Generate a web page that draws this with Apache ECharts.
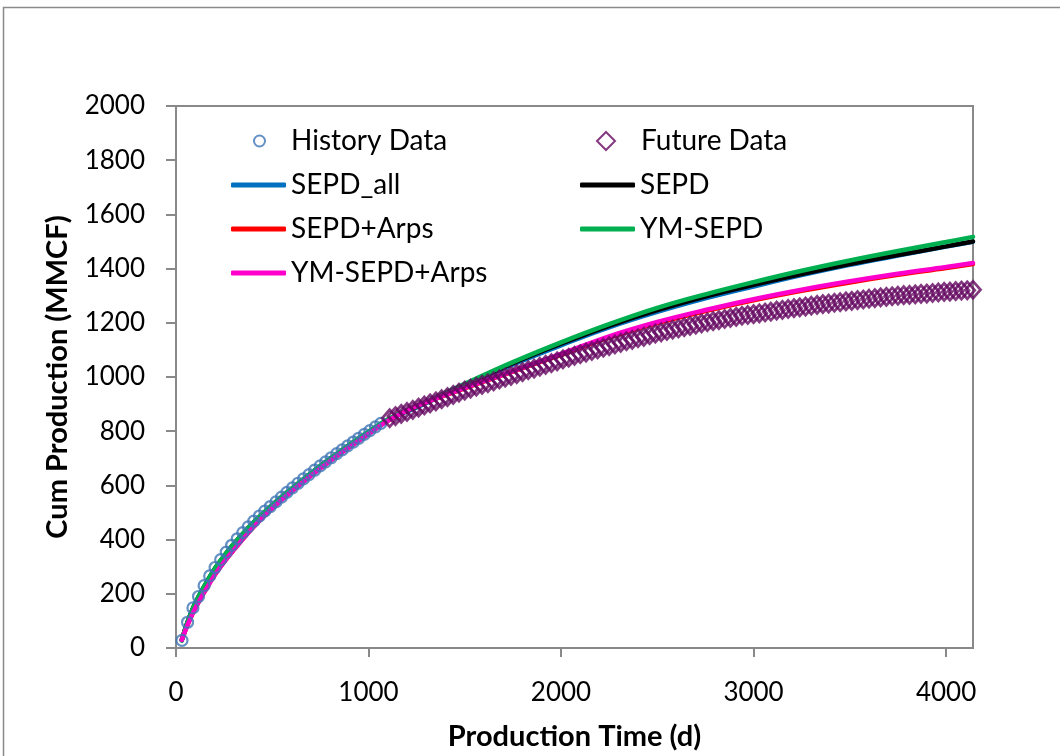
<!DOCTYPE html>
<html>
<head>
<meta charset="utf-8">
<script src="https://cdn.jsdelivr.net/npm/echarts@6/dist/echarts.min.js"></script>
<style>
  html, body { margin: 0; padding: 0; background: #fff; }
  #chart { width: 1060px; height: 756px; }
</style>
</head>
<body>
<div id="chart"></div>
<script>
// Measured history (cumulative gas, MMCF) versus production time (days)
const historyDays = [31, 60, 88, 117, 146, 175, 203, 232, 261, 289,
  318, 347, 375, 404, 433, 461, 490, 519, 548, 576,
  605, 634, 662, 691, 720, 749, 777, 806, 835, 863,
  892, 921, 949, 978, 1007, 1036, 1064];
const historyCum = [28, 95, 148, 190, 230, 266, 297, 326, 354, 379,
  403, 426, 447, 468, 487, 505, 522, 539, 557, 574,
  591, 608, 624, 640, 656, 672, 687, 702, 717, 731,
  746, 760, 774, 788, 802, 816, 829];

// Later production held out for checking the forecasts
const futureDays = [1110, 1140, 1170, 1200, 1230, 1260, 1290, 1320, 1350, 1380,
  1410, 1440, 1470, 1500, 1530, 1560, 1590, 1620, 1650, 1680,
  1710, 1740, 1770, 1800, 1830, 1860, 1890, 1920, 1950, 1980,
  2010, 2040, 2070, 2100, 2130, 2160, 2190, 2220, 2250, 2280,
  2310, 2340, 2370, 2400, 2430, 2460, 2490, 2520, 2550, 2580,
  2610, 2640, 2670, 2700, 2730, 2760, 2790, 2820, 2850, 2880,
  2910, 2940, 2970, 3000, 3030, 3060, 3090, 3120, 3150, 3180,
  3210, 3240, 3270, 3300, 3330, 3360, 3390, 3420, 3450, 3480,
  3510, 3540, 3570, 3600, 3630, 3660, 3690, 3720, 3750, 3780,
  3810, 3840, 3870, 3900, 3930, 3960, 3990, 4020, 4050, 4080,
  4110, 4140];
const futureCum = [848, 856, 864, 871, 879, 887, 895, 903, 910, 918,
  926, 934, 942, 950, 957, 964, 971, 977, 984, 991,
  998, 1004, 1011, 1018, 1025, 1031, 1038, 1045, 1051, 1058,
  1065, 1071, 1078, 1084, 1090, 1096, 1102, 1108, 1114, 1120,
  1126, 1132, 1137, 1143, 1148, 1154, 1160, 1165, 1170, 1175,
  1179, 1184, 1189, 1193, 1198, 1202, 1206, 1210, 1214, 1218,
  1222, 1226, 1229, 1232, 1235, 1238, 1241, 1245, 1248, 1251,
  1254, 1257, 1260, 1263, 1266, 1269, 1271, 1274, 1276, 1279,
  1281, 1284, 1286, 1289, 1291, 1294, 1296, 1298, 1300, 1302,
  1303, 1305, 1307, 1308, 1310, 1312, 1314, 1315, 1317, 1319,
  1320, 1322];

// Model curves sampled on a common time grid
const curveDays = [30, 60, 90, 120, 150, 200, 250, 300, 400, 500,
  600, 700, 800, 900, 1000, 1100, 1250, 1500, 1750, 2000,
  2250, 2500, 2750, 3000, 3250, 3500, 3750, 4000, 4140];
const sepdAll = [28, 94, 148, 191, 229, 289, 337, 382, 459, 525,
  585, 642, 696, 747, 795, 840, 888, 968, 1046, 1117,
  1183, 1240, 1290, 1334, 1376, 1414, 1448, 1481, 1499];
const sepd = [30, 96, 150, 193, 231, 291, 339, 384, 461, 527,
  587, 644, 698, 749, 797, 842, 891, 972, 1051, 1123,
  1189, 1247, 1297, 1340, 1380, 1417, 1450, 1482, 1500];
const sepdArps = [30, 85, 133, 173, 210, 268, 318, 362, 445, 516,
  578, 636, 690, 741, 790, 838, 892, 958, 1020, 1082,
  1146, 1199, 1243, 1283, 1318, 1349, 1377, 1402, 1417];
const ymSepd = [27, 95, 150, 194, 232, 292, 340, 385, 462, 528,
  588, 645, 699, 750, 798, 843, 893, 975, 1055, 1128,
  1195, 1255, 1305, 1350, 1392, 1430, 1465, 1498, 1517];
const ymSepdArps = [30, 85, 133, 173, 210, 268, 318, 362, 445, 516,
  578, 636, 690, 741, 790, 838, 893, 960, 1022, 1085,
  1150, 1203, 1247, 1287, 1322, 1353, 1381, 1406, 1421];

const xTicks = [0, 1000, 2000, 3000, 4000];

const FONT = 'Lato, "Open Sans", sans-serif';
const AXIS_GREY = '#898989';
const LEGEND_FONT = 28;

const pairs = (xs, ys) => xs.map((x, i) => [x, ys[i]]);

function curve(name, color, values) {
  return {
    name, type: 'line', data: pairs(curveDays, values),
    showSymbol: false, symbol: 'none', smooth: 0.4,
    lineStyle: { color, width: 4.5, cap: 'round' },
    itemStyle: { color },
    z: 2
  };
}

// One legend block per entry so that both columns line up like the chart's key
function legendItem(name, iconLeft, centerY, iconW, iconH, icon, textLeft) {
  const lg = {
    data: [name], left: iconLeft, top: centerY - 17, padding: 0,
    itemWidth: iconW, itemHeight: iconH, itemGap: 0,
    selectedMode: false,
    textStyle: {
      fontFamily: FONT, fontSize: LEGEND_FONT, color: '#000', lineHeight: 34,
      padding: [0, 0, 0, Math.max(0, textLeft - (iconLeft + iconW + 5))]
    }
  };
  if (icon) lg.icon = icon;
  return lg;
}

const plainNumber = v => String(v);

const chart = echarts.init(document.getElementById('chart'), null, { renderer: 'canvas' });
chart.setOption({
  backgroundColor: '#fff',
  animation: false,
  graphic: [{
    type: 'rect', silent: true,
    shape: { x: 3.5, y: 7.5, width: 1200, height: 1000 },
    style: { fill: 'none', stroke: '#8a8a8a', lineWidth: 1.5 }
  }],
  grid: {
    left: 176, right: 87, top: 106, bottom: 108,
    show: true, borderColor: AXIS_GREY, borderWidth: 2, backgroundColor: 'transparent'
  },
  legend: [
    legendItem('History Data', 253, 141, 11, 11, null, 290),
    legendItem('Future Data', 596, 141, 18, 18, null, 640),
    legendItem('SEPD_all', 231, 185, 55, 5, 'roundRect', 290),
    legendItem('SEPD', 580, 185, 55, 5, 'roundRect', 640),
    legendItem('SEPD+Arps', 231, 229, 55, 5, 'roundRect', 290),
    legendItem('YM-SEPD', 580, 229, 55, 5, 'roundRect', 640),
    legendItem('YM-SEPD+Arps', 231, 273, 55, 5, 'roundRect', 290)
  ],
  xAxis: {
    type: 'value', min: 0, max: 4140,
    name: 'Production Time (d)', nameLocation: 'middle', nameGap: 74,
    nameTextStyle: { fontFamily: FONT, fontSize: 29, fontWeight: 'bold', color: '#000' },
    axisLine: { show: true, lineStyle: { color: AXIS_GREY, width: 2 } },
    axisTick: { show: true, length: 9, customValues: xTicks, lineStyle: { color: AXIS_GREY, width: 2 } },
    axisLabel: { customValues: xTicks, margin: 32, formatter: plainNumber, fontFamily: FONT, fontSize: 26, color: '#000' },
    splitLine: { show: false }
  },
  yAxis: {
    type: 'value', min: 0, max: 2000, interval: 200,
    name: 'Cum Production (MMCF)', nameLocation: 'middle', nameGap: 104, nameRotate: 90,
    nameTextStyle: { fontFamily: FONT, fontSize: 29, fontWeight: 'bold', color: '#000' },
    axisLine: { show: true, lineStyle: { color: AXIS_GREY, width: 2 } },
    axisTick: { show: true, length: 10, lineStyle: { color: AXIS_GREY, width: 2 } },
    axisLabel: { margin: 31, formatter: plainNumber, fontFamily: FONT, fontSize: 26, color: '#000' },
    splitLine: { show: false }
  },
  series: [
    curve('SEPD_all', '#0070c0', sepdAll),
    curve('SEPD', '#000000', sepd),
    curve('SEPD+Arps', '#ff0000', sepdArps),
    curve('YM-SEPD', '#00b050', ymSepd),
    curve('YM-SEPD+Arps', '#ff00cc', ymSepdArps),
    {
      name: 'History Data', type: 'scatter', data: pairs(historyDays, historyCum),
      symbol: 'circle', symbolSize: 11,
      itemStyle: { color: 'rgba(0,0,0,0)', borderColor: '#3f74b5', borderWidth: 2.2 },
      z: 5
    },
    {
      name: 'Future Data', type: 'scatter', data: pairs(futureDays, futureCum),
      symbol: 'diamond', symbolSize: [15, 17], clip: false,
      itemStyle: { color: 'rgba(0,0,0,0)', borderColor: '#640760', borderWidth: 2.8 },
      z: 5
    }
  ]
});
</script>
</body>
</html>
